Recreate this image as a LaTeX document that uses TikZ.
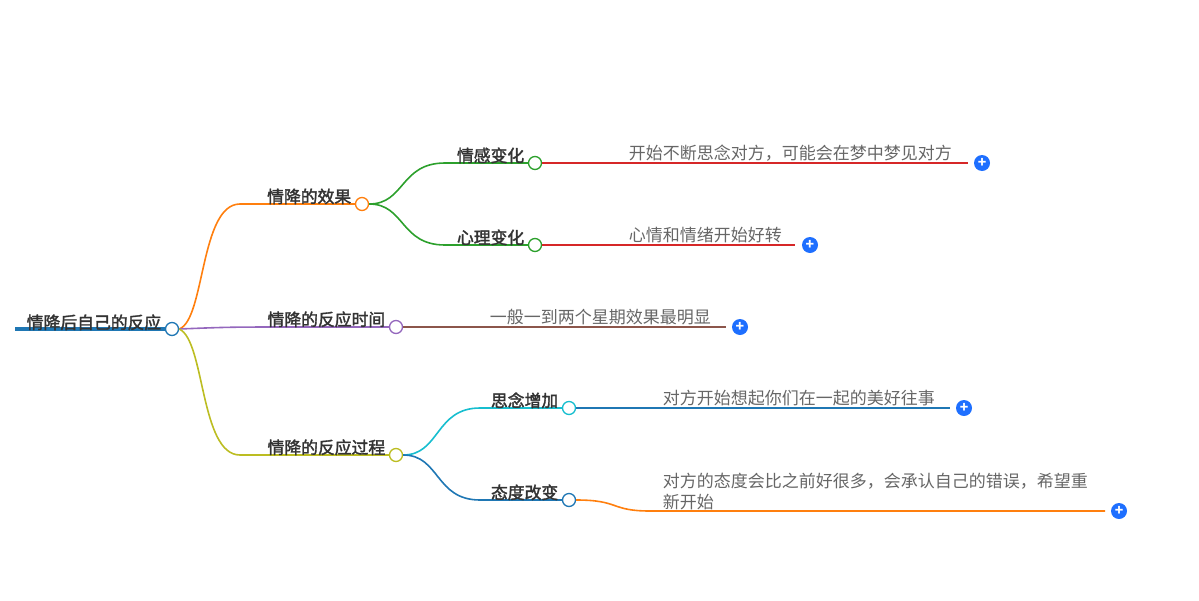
\documentclass[tikz,border=0pt]{standalone}
\usepackage{fontspec}
\setmainfont{Noto Sans CJK SC}
\newfontfamily\cjkbold[FakeBold=2]{Noto Sans CJK SC}
\usetikzlibrary{positioning}
\definecolor{rootblue}{HTML}{1F77B4}
\definecolor{brorange}{HTML}{FF7F0E}
\definecolor{brpurple}{HTML}{9467BD}
\definecolor{brolive}{HTML}{BCBD22}
\definecolor{brgreen}{HTML}{2CA02C}
\definecolor{brred}{HTML}{D62728}
\definecolor{brbrown}{HTML}{8C564B}
\definecolor{brcyan}{HTML}{17BECF}
\definecolor{plusblue}{HTML}{1E6FFF}
\begin{document}
\begin{tikzpicture}[x=1pt,y=-1pt,line width=1.6pt,
  knob/.style={circle,draw,fill=white,line width=1.3pt,minimum size=13pt,inner sep=0pt},
  topic/.style={font=\cjkbold\fontsize{16.8}{19}\selectfont,text=black!80,anchor=south east,inner sep=1pt},
  leaf/.style={font=\fontsize{17}{21}\selectfont,text=black!60,anchor=south west,inner sep=1pt,align=left},
  plus/.style={circle,fill=plusblue,minimum size=16pt,inner sep=0pt,text=white,font=\bfseries\fontsize{14}{14}\selectfont}]
  \useasboundingbox (0,0) rectangle (1199,600);
  % root
  \node[knob,draw=rootblue] (root) at (172,329) {};
  \coordinate (rootstart) at (15,329);
  \draw[rootblue,line width=3.5pt] (rootstart) -- (root.west);
  \node[topic] at (163,332) {情降后自己的反应};
  % first level
  \node[knob,draw=brorange] (effect) at (362,204) {};
  \node[knob,draw=brpurple] (time) at (396,327) {};
  \node[knob,draw=brolive] (course) at (396,455) {};
  \draw[brorange] (root.east) .. controls (205,320) and (200,204) .. (240,204) -- (effect.west);
  \draw[brpurple] (root.east) .. controls (230,327) .. (300,327) -- (time.west);
  \draw[brolive] (root.east) .. controls (205,340) and (200,455) .. (240,455) -- (course.west);
  \node[topic] at (353,206) {情降的效果};
  \node[topic] at (387,329) {情降的反应时间};
  \node[topic] at (387,457) {情降的反应过程};
  % second level
  \node[knob,draw=brgreen] (feel) at (535,163) {};
  \node[knob,draw=brgreen] (mind) at (535,245) {};
  \node[knob,draw=brcyan] (miss) at (569,408) {};
  \node[knob,draw=rootblue] (attitude) at (569,500) {};
  \draw[brgreen] (effect.east) .. controls (405,204) and (400,163) .. (445,163) -- (feel.west);
  \draw[brgreen] (effect.east) .. controls (405,204) and (400,245) .. (445,245) -- (mind.west);
  \draw[brcyan] (course.east) .. controls (440,455) and (435,408) .. (480,408) -- (miss.west);
  \draw[rootblue] (course.east) .. controls (440,455) and (435,500) .. (480,500) -- (attitude.west);
  \node[topic] at (526,165) {情感变化};
  \node[topic] at (526,247) {心理变化};
  \node[topic] at (560,410) {思念增加};
  \node[topic] at (560,502) {态度改变};
  % leaves
  \node[plus] (p1) at (982,163) {+};
  \node[plus] (p2) at (810,245) {+};
  \node[plus] (p3) at (740,327) {+};
  \node[plus] (p4) at (964,408) {+};
  \node[plus] (p5) at (1119,511) {+};
  \draw[brred] (feel.east) -- (968,163);
  \draw[brred] (mind.east) -- (795,245);
  \draw[brbrown] (time.east) -- (726,327);
  \draw[rootblue] (miss.east) -- (950,408);
  \draw[brorange] (attitude.east) .. controls (620,500) and (610,511) .. (650,511) -- (1105,511);
  \node[leaf] at (627,163) {开始不断思念对方，可能会在梦中梦见对方};
  \node[leaf] at (627,245) {心情和情绪开始好转};
  \node[leaf] at (488,327) {一般一到两个星期效果最明显};
  \node[leaf] at (661,408) {对方开始想起你们在一起的美好往事};
  \node[leaf] at (661,512) {对方的态度会比之前好很多，会承认自己的错误，希望重\\新开始};
\end{tikzpicture}
\end{document}
